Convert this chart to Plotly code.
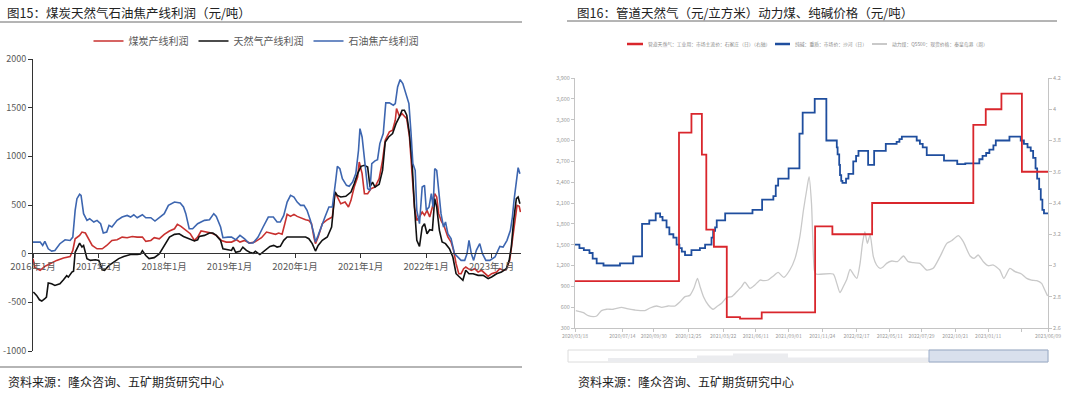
import plotly.graph_objects as go

# ---------------- Left chart: 产线利润 (元/吨) ----------------
coal_dates = ["2016-01-01","2016-01-12","2016-02-10","2016-03-07","2016-04-05","2016-05-12","2016-06-19","2016-07-26",
 "2016-08-10","2016-08-23","2016-09-17","2016-09-30","2016-10-19","2016-11-07","2016-11-26","2016-12-23",
 "2017-01-21","2017-02-15","2017-03-16","2017-04-14","2017-05-12","2017-06-09","2017-07-07","2017-08-04",
 "2017-09-02","2017-09-21","2017-10-19","2017-11-07","2017-12-05","2018-01-02","2018-01-31","2018-02-28",
 "2018-03-16","2018-04-05","2018-04-23","2018-05-27","2018-06-19","2018-07-07","2018-07-26","2018-08-23",
 "2018-09-21","2018-10-19","2018-11-16","2018-12-14","2019-01-12","2019-02-09","2019-02-28","2019-03-26",
 "2019-04-23","2019-05-21","2019-06-28","2019-07-26","2019-08-23","2019-09-14","2019-10-02","2019-10-21",
 "2019-11-05","2019-11-18","2019-12-07","2019-12-26","2020-01-13","2020-02-11","2020-02-29","2020-03-18",
 "2020-04-02","2020-04-15","2020-04-24","2020-05-09","2020-06-01","2020-06-29","2020-07-27","2020-08-11",
 "2020-08-24","2020-09-12","2020-10-06","2020-10-25","2020-11-08","2020-11-26","2020-12-15","2020-12-24",
 "2021-01-09","2021-01-22","2021-02-09","2021-02-28","2021-03-22","2021-04-14","2021-05-03","2021-05-18",
 "2021-06-10","2021-06-28","2021-07-13","2021-07-20","2021-08-05","2021-08-20","2021-09-02","2021-09-15",
 "2021-09-30","2021-10-15","2021-10-28","2021-11-10","2021-11-25","2021-12-10","2021-12-23","2022-01-06",
 "2022-01-21","2022-02-05","2022-02-18","2022-03-01","2022-03-12","2022-03-25","2022-04-13","2022-05-02",
 "2022-05-20","2022-06-03","2022-06-17","2022-07-02","2022-07-15","2022-07-29","2022-08-10","2022-08-23",
 "2022-09-10","2022-09-29","2022-10-18","2022-11-06","2022-11-24","2022-12-13","2023-01-01","2023-01-29",
 "2023-02-16","2023-03-06","2023-03-24","2023-04-12","2023-04-27","2023-05-10","2023-05-23","2023-06-04",
 "2023-06-11"]
coal_vals = [-51,-144,-171,-130,-103,-69,-45,-29,33,153,188,222,212,153,84,50,
 50,84,136,143,170,164,177,170,170,126,136,164,153,198,233,256,
 301,281,256,205,136,170,233,222,212,188,136,119,119,143,119,136,
 109,119,164,222,205,199,212,199,308,404,383,404,383,359,349,342,
 308,171,103,171,308,349,376,633,582,513,530,479,548,685,788,942,
 822,616,616,668,685,770,959,1165,1251,1268,1371,1491,1412,1439,1412,1388,
 1199,753,479,342,376,428,394,445,376,479,616,582,411,342,274,171,
 120,34,-103,-206,-206,-154,-137,-154,-171,-154,-189,-171,-206,-233,-206,-189,
 -154,-171,-164,-69,137,342,496,486,428]

gas_dates = ["2016-01-03","2016-01-21","2016-02-06","2016-02-19","2016-03-07","2016-03-16","2016-03-26","2016-04-14",
 "2016-05-02","2016-05-30","2016-06-19","2016-07-07","2016-07-16","2016-08-05","2016-08-14","2016-08-23",
 "2016-09-17","2016-09-30","2016-10-09","2016-10-28","2016-11-16","2016-12-14","2017-01-02","2017-01-21",
 "2017-02-03","2017-02-28","2017-03-26","2017-04-23","2017-05-21","2017-06-28","2017-08-04","2017-08-23",
 "2017-09-02","2017-09-21","2017-10-09","2017-11-07","2017-12-05","2018-01-02","2018-01-31","2018-02-28",
 "2018-03-26","2018-04-19","2018-05-21","2018-06-19","2018-07-07","2018-07-16","2018-08-14","2018-09-11",
 "2018-09-30","2018-10-19","2018-11-12","2018-11-25","2018-12-23","2019-01-12","2019-01-21","2019-02-04",
 "2019-02-28","2019-03-16","2019-04-05","2019-04-23","2019-05-12","2019-05-25","2019-06-19","2019-07-16",
 "2019-08-14","2019-09-04","2019-09-23","2019-10-11","2019-10-30","2019-11-18","2019-12-16","2020-01-13",
 "2020-02-29","2020-03-18","2020-04-06","2020-04-24","2020-05-09","2020-06-01","2020-06-29","2020-07-23",
 "2020-08-11","2020-08-24","2020-09-12","2020-10-10","2020-11-08","2020-11-26","2020-12-15","2021-01-03",
 "2021-01-22","2021-02-09","2021-02-22","2021-03-08","2021-03-22","2021-04-14","2021-05-03","2021-05-18",
 "2021-06-06","2021-06-28","2021-07-17","2021-08-05","2021-08-20","2021-09-02","2021-09-15","2021-09-30",
 "2021-10-15","2021-10-28","2021-11-10","2021-11-25","2021-12-10","2021-12-23","2022-01-06","2022-01-21",
 "2022-02-05","2022-02-18","2022-03-01","2022-03-16","2022-03-31","2022-04-19","2022-05-11","2022-05-30",
 "2022-06-17","2022-07-06","2022-07-25","2022-08-10","2022-08-28","2022-09-20","2022-10-18","2022-11-15",
 "2022-12-13","2023-01-01","2023-01-29","2023-02-25","2023-03-24","2023-04-09","2023-04-21","2023-05-04",
 "2023-05-19","2023-05-29","2023-06-08"]
gas_vals = [-394,-429,-474,-487,-463,-446,-302,-309,-326,-309,-268,-227,-241,-189,-180,14,
 109,68,84,-51,-69,-62,-69,-165,-171,-120,-86,-51,-29,-9,-9,-3,
 31,-19,-51,-41,-3,84,170,198,205,177,153,130,143,177,188,212,
 212,188,136,50,40,33,67,14,24,67,33,14,3,24,-9,33,
 75,85,68,75,137,171,171,171,171,154,103,27,85,137,171,274,
 633,599,582,589,633,719,822,897,908,890,685,736,685,712,856,1148,
 1199,1234,1336,1405,1474,1474,1422,1234,925,479,137,75,274,308,205,246,
 240,565,479,240,120,103,51,-34,-206,-240,-274,-171,-206,-206,-223,-223,
 -257,-240,-206,-189,-154,-69,68,342,565,582,513]

coke_dates = ["2016-01-01","2016-02-10","2016-02-24","2016-03-07","2016-03-26","2016-04-14","2016-05-02","2016-05-30",
 "2016-06-28","2016-07-26","2016-08-10","2016-08-23","2016-09-02","2016-09-17","2016-09-25","2016-10-09",
 "2016-10-28","2016-11-12","2016-12-05","2016-12-23","2017-01-12","2017-01-27","2017-02-15","2017-02-28",
 "2017-03-16","2017-04-14","2017-05-12","2017-06-09","2017-06-28","2017-07-16","2017-08-04","2017-09-02",
 "2017-09-21","2017-10-19","2017-11-11","2017-12-05","2018-01-02","2018-01-25","2018-02-28","2018-04-01",
 "2018-04-19","2018-05-02","2018-05-21","2018-06-09","2018-07-07","2018-08-14","2018-09-11","2018-10-05",
 "2018-10-19","2018-11-12","2018-11-25","2018-12-23","2019-01-12","2019-02-04","2019-02-28","2019-03-26",
 "2019-04-18","2019-05-12","2019-06-09","2019-07-07","2019-08-05","2019-09-02","2019-09-23","2019-10-11",
 "2019-10-30","2019-11-18","2019-12-07","2019-12-26","2020-01-13","2020-02-01","2020-02-20","2020-03-08",
 "2020-03-27","2020-04-15","2020-04-24","2020-05-09","2020-05-28","2020-06-16","2020-07-08","2020-07-27",
 "2020-08-15","2020-08-24","2020-09-07","2020-09-21","2020-10-14","2020-10-29","2020-11-17","2020-12-05",
 "2020-12-20","2020-12-28","2021-01-09","2021-01-22","2021-02-09","2021-02-22","2021-03-04","2021-03-22",
 "2021-04-05","2021-04-18","2021-05-07","2021-05-21","2021-06-10","2021-07-02","2021-07-13","2021-07-26",
 "2021-08-09","2021-08-24","2021-09-12","2021-09-27","2021-10-09","2021-10-19","2021-11-01","2021-11-10",
 "2021-11-25","2021-12-10","2021-12-23","2022-01-02","2022-01-17","2022-01-30","2022-02-09","2022-02-18",
 "2022-03-01","2022-03-12","2022-03-25","2022-04-08","2022-04-19","2022-05-02","2022-05-20","2022-06-08",
 "2022-06-27","2022-07-15","2022-08-04","2022-08-17","2022-08-28","2022-09-10","2022-09-23","2022-10-08",
 "2022-10-27","2022-11-11","2022-11-30","2022-12-22","2023-01-20","2023-02-16","2023-03-06","2023-03-28",
 "2023-04-16","2023-04-27","2023-05-06","2023-05-19","2023-05-29","2023-06-08"]
coke_vals = [119,119,84,126,50,26,33,102,143,136,170,445,565,610,599,411,
 342,359,325,342,308,212,222,291,274,342,376,393,376,400,369,400,
 369,369,335,369,411,497,531,521,480,411,256,256,308,342,349,411,
 383,274,164,170,170,143,188,153,109,109,170,274,376,376,325,325,
 393,530,599,582,530,496,496,445,342,205,120,188,291,376,479,479,
 753,897,873,770,702,692,736,822,1062,1285,1199,959,668,651,925,953,
 966,1131,1234,1549,1549,1525,1542,1713,1788,1747,1645,1542,1234,925,856,445,
 308,685,702,445,479,616,479,873,856,651,411,274,325,205,154,0,
 -34,-69,-69,0,137,0,-69,34,103,0,-69,-69,-34,75,68,137,
 240,376,548,719,884,822]

left_tickvals = ["2016-01-01","2017-01-01","2018-01-01","2019-01-01","2020-01-01","2021-01-01","2022-01-01","2023-01-01"]
left_ticktext = ["2016年1月","2017年1月","2018年1月","2019年1月","2020年1月","2021年1月","2022年1月","2023年1月"]
left_ytickvals = [-1000, -500, 0, 500, 1000, 1500, 2000]
left_yticktext = ["-1000", "-500", "0", "500", "1000", "1500", "2000"]

# ---------------- Right chart ----------------
ng_name = "管道天然气：工业用：市场主流价：石家庄（日）（右轴）"
ng_dates = ["2020-03-18","2020-12-02","2021-01-02","2021-01-28","2021-02-08","2021-02-27","2021-03-31","2021-05-03",
 "2021-06-26","2021-11-06","2021-12-19","2022-03-28","2022-12-05","2023-01-05","2023-02-13","2023-04-05","2023-06-09"]
ng_vals = [2.90,3.85,3.97,3.71,3.23,3.12,2.67,2.66,2.70,3.25,3.20,3.40,3.90,4.00,4.10,3.60,3.60]

soda_name = "纯碱：重质：市场价：沙河（日）"
soda_dates = ["2020-03-18","2020-03-29","2020-04-09","2020-04-23","2020-05-01","2020-05-11","2020-05-28","2020-07-08",
 "2020-08-10","2020-09-01","2020-09-19","2020-10-05","2020-10-16","2020-10-22","2020-11-01","2020-11-08",
 "2020-11-18","2020-11-26","2020-12-03","2020-12-09","2020-12-17","2021-01-02","2021-01-23","2021-02-05",
 "2021-02-21","2021-02-25","2021-03-02","2021-03-06","2021-03-27","2021-06-03","2021-06-27","2021-07-25",
 "2021-07-31","2021-08-06","2021-09-01","2021-09-28","2021-10-06","2021-11-05","2021-12-04","2021-12-30",
 "2022-01-01","2022-01-05","2022-01-07","2022-01-10","2022-01-13","2022-01-22","2022-01-28","2022-02-09",
 "2022-02-16","2022-02-22","2022-03-18","2022-04-02","2022-05-01","2022-05-28","2022-06-04","2022-06-10",
 "2022-07-17","2022-07-25","2022-08-01","2022-08-11","2022-09-23","2022-10-26","2022-11-15","2022-12-20",
 "2022-12-28","2023-01-06","2023-01-14","2023-01-24","2023-01-30","2023-03-05","2023-04-02","2023-04-10",
 "2023-04-19","2023-04-27","2023-05-03","2023-05-09","2023-05-13","2023-05-18","2023-05-22","2023-05-26",
 "2023-05-30","2023-06-09"]
soda_vals = [1500,1450,1420,1380,1300,1230,1200,1230,1330,1800,1850,1950,1900,1850,1750,1650,
 1600,1500,1450,1400,1350,1420,1450,1500,1600,1700,1750,1850,1950,2000,2150,2200,
 2350,2450,2600,3100,3400,3600,3000,2900,2800,2650,2500,2420,2390,2450,2520,2700,
 2780,2850,2650,2850,2950,2980,3020,3055,3000,2950,2900,2790,2710,2660,2670,2730,
 2780,2820,2870,2930,3000,3055,3000,2950,2900,2850,2750,2600,2450,2300,2150,2000,
 1950,1950]

coal_px_name = "动力煤：Q5500：现货价格：秦皇岛港（周）"
coal_px_dates = ["2020-03-20","2020-04-08","2020-04-20","2020-05-03","2020-05-11","2020-05-23","2020-06-05","2020-06-21",
 "2020-07-12","2020-07-25","2020-08-14","2020-09-08","2020-09-21","2020-10-07","2020-10-20","2020-11-05",
 "2020-11-22","2020-12-04","2020-12-17","2020-12-29","2021-01-08","2021-01-17","2021-01-23","2021-02-01",
 "2021-02-13","2021-02-25","2021-03-06","2021-03-18","2021-03-31","2021-04-12","2021-04-25","2021-05-07",
 "2021-05-15","2021-05-28","2021-06-09","2021-06-22","2021-06-30","2021-07-12","2021-07-25","2021-08-06",
 "2021-08-20","2021-09-04","2021-09-17","2021-09-29","2021-10-08","2021-10-16","2021-10-22","2021-10-28",
 "2021-11-04","2021-11-08","2021-12-21","2021-12-30","2022-01-07","2022-01-15","2022-01-24","2022-02-01",
 "2022-02-09","2022-02-18","2022-02-26","2022-03-04","2022-03-10","2022-03-16","2022-03-23","2022-03-31",
 "2022-04-08","2022-04-17","2022-04-25","2022-05-03","2022-05-16","2022-05-30","2022-06-14","2022-06-26",
 "2022-07-09","2022-07-25","2022-08-11","2022-08-27","2022-09-13","2022-09-30","2022-10-12","2022-10-29",
 "2022-11-10","2022-11-27","2022-12-07","2022-12-17","2022-12-30","2023-01-11","2023-01-24","2023-02-09",
 "2023-02-19","2023-03-06","2023-03-19","2023-04-04","2023-04-17","2023-04-29","2023-05-12","2023-05-24",
 "2023-06-01","2023-06-08"]
coal_px_vals = [550,520,477,463,473,550,570,570,597,578,559,550,588,617,597,617,
 617,674,751,770,871,1015,905,751,631,570,607,655,741,751,823,895,
 962,871,919,991,981,991,1049,1101,1029,1135,1303,1615,1999,2287,2479,2095,
 1135,1077,1077,943,809,895,1001,1145,1077,1015,1231,1519,1687,1519,1639,1327,
 1207,1159,1183,1231,1265,1255,1337,1255,1241,1231,1135,1159,1327,1519,1557,1629,
 1543,1337,1303,1351,1255,1197,1207,1135,1015,1159,1111,1077,1015,991,981,943,
 847,761]

right_tickvals = ["2020-03-18","2020-07-14","2020-09-30","2020-12-25","2021-03-22","2021-06-11","2021-09-01",
 "2021-11-24","2022-02-17","2022-05-11","2022-07-29","2022-10-21","2023-01-11","2023-04-05","2023-06-09"]
right_ticktext = ["2020/03/18","2020/07/14","2020/09/30","2020/12/25","2021/03/22","2021/06/11","2021/09/01",
 "2021/11/24","2022/02/17","2022/05/11","2022/07/29","2022/10/21","2023/01/11","","2023/06/09"]

FONT = "Noto Sans CJK SC"
W, H = 1080, 398
RED2, BLUE2, GRAY2 = "#D9262C", "#1F4E9E", "#C9C9C9"


def px(x):
    return x / W


def py(y):
    return 1 - y / H


fig = go.Figure()

# left traces
fig.add_trace(go.Scatter(x=coal_dates, y=coal_vals, name="煤炭产线利润", mode="lines",
                         line=dict(color="#C8312F", width=1.6), xaxis="x", yaxis="y"))
fig.add_trace(go.Scatter(x=gas_dates, y=gas_vals, name="天然气产线利润", mode="lines",
                         line=dict(color="#111111", width=1.6), xaxis="x", yaxis="y"))
fig.add_trace(go.Scatter(x=coke_dates, y=coke_vals, name="石油焦产线利润", mode="lines",
                         line=dict(color="#3D66B0", width=1.6), xaxis="x", yaxis="y"))

# right traces (gray drawn first so it sits underneath); their key is drawn below
fig.add_trace(go.Scatter(x=coal_px_dates, y=coal_px_vals, name=coal_px_name, showlegend=False,
                         mode="lines", line=dict(color=GRAY2, width=1.3, shape="spline", smoothing=0.6),
                         xaxis="x2", yaxis="y2"))
fig.add_trace(go.Scatter(x=soda_dates, y=soda_vals, name=soda_name, showlegend=False,
                         mode="lines", line=dict(color=BLUE2, width=1.8, shape="hv"),
                         xaxis="x2", yaxis="y2"))
fig.add_trace(go.Scatter(x=ng_dates, y=ng_vals, name=ng_name, showlegend=False,
                         mode="lines", line=dict(color=RED2, width=1.8, shape="hv"),
                         xaxis="x2", yaxis="y3"))

shapes = [
    # left title rule and bottom rule
    dict(type="line", xref="paper", yref="paper", x0=0, x1=px(522), y0=py(22), y1=py(22),
         line=dict(color="#6b6b6b", width=1)),
    dict(type="line", xref="paper", yref="paper", x0=0, x1=px(522), y0=py(367), y1=py(367),
         line=dict(color="#b5b5b5", width=2)),
    # right title rule
    dict(type="line", xref="paper", yref="paper", x0=px(567), x1=px(1057), y0=py(21), y1=py(21),
         line=dict(color="#6b6b6b", width=1)),
    # right chart key swatches
    dict(type="line", xref="paper", yref="paper", x0=px(627), x1=px(643), y0=py(44), y1=py(44),
         line=dict(color=RED2, width=2.5)),
    dict(type="line", xref="paper", yref="paper", x0=px(775), x1=px(790), y0=py(44), y1=py(44),
         line=dict(color=BLUE2, width=2.5)),
    dict(type="line", xref="paper", yref="paper", x0=px(872), x1=px(887), y0=py(44), y1=py(44),
         line=dict(color=GRAY2, width=2)),
    # data-zoom slider frame
    dict(type="rect", xref="paper", yref="paper", x0=px(568), x1=px(1048), y0=py(362), y1=py(350),
         line=dict(color="#dcdcdc", width=1), fillcolor="rgba(0,0,0,0)"),
    dict(type="rect", xref="paper", yref="paper", x0=px(608), x1=px(697), y0=py(362), y1=py(358),
         line=dict(width=0), fillcolor="#ebecef"),
    dict(type="rect", xref="paper", yref="paper", x0=px(697), x1=px(733), y0=py(362), y1=py(355.5),
         line=dict(width=0), fillcolor="#ebecef"),
    dict(type="rect", xref="paper", yref="paper", x0=px(733), x1=px(788), y0=py(362), y1=py(353.5),
         line=dict(width=0), fillcolor="#ebecef"),
    dict(type="rect", xref="paper", yref="paper", x0=px(788), x1=px(929), y0=py(362), y1=py(357.5),
         line=dict(width=0), fillcolor="#ebecef"),
    dict(type="rect", xref="paper", yref="paper", x0=px(929), x1=px(1048), y0=py(362), y1=py(350),
         line=dict(color="#9fb0cc", width=1), fillcolor="rgba(170,186,214,0.45)"),
]

key_font = dict(family=FONT, size=4.8, color="#8a8a8a")
annotations = [
    dict(text="图15：煤炭天然气石油焦产线利润（元/吨）", xref="paper", yref="paper", x=px(5), y=py(12),
         xanchor="left", yanchor="middle", showarrow=False, font=dict(family=FONT, size=12.5, color="#222")),
    dict(text="图16：管道天然气（元/立方米）动力煤、纯碱价格（元/吨）", xref="paper", yref="paper", x=px(575), y=py(12),
         xanchor="left", yanchor="middle", showarrow=False, font=dict(family=FONT, size=12.5, color="#222")),
    dict(text="资料来源：隆众咨询、五矿期货研究中心", xref="paper", yref="paper", x=px(6), y=py(381),
         xanchor="left", yanchor="middle", showarrow=False, font=dict(family=FONT, size=12, color="#222")),
    dict(text="资料来源：隆众咨询、五矿期货研究中心", xref="paper", yref="paper", x=px(576), y=py(381),
         xanchor="left", yanchor="middle", showarrow=False, font=dict(family=FONT, size=12, color="#222")),
    dict(text=ng_name, xref="paper", yref="paper", x=px(646), y=py(44), xanchor="left", yanchor="middle",
         showarrow=False, font=key_font),
    dict(text=soda_name, xref="paper", yref="paper", x=px(793), y=py(44), xanchor="left", yanchor="middle",
         showarrow=False, font=key_font),
    dict(text=coal_px_name, xref="paper", yref="paper", x=px(890), y=py(44), xanchor="left", yanchor="middle",
         showarrow=False, font=key_font),
]

fig.update_layout(
    width=W, height=H, autosize=False,
    margin=dict(l=0, r=0, t=0, b=0, autoexpand=False),
    paper_bgcolor="white", plot_bgcolor="rgba(0,0,0,0)",
    font=dict(family=FONT, color="#595959"),
    hovermode=False,
    showlegend=True,
    shapes=shapes,
    annotations=annotations,
    legend=dict(orientation="h", x=px(256), y=py(41), xanchor="center", yanchor="middle",
                font=dict(family=FONT, size=10, color="#595959"), bgcolor="rgba(0,0,0,0)",
                itemwidth=30, tracegroupgap=0),
    xaxis=dict(domain=[px(33), px(521)], type="date", range=["2016-01-01", "2023-06-14"],
               anchor="free", position=py(253.3), automargin=False,
               tickmode="array", tickvals=left_tickvals, ticktext=left_ticktext,
               ticks="outside", ticklen=4, tickcolor="#333", showline=True, linecolor="#333", linewidth=1,
               showgrid=False, zeroline=False, tickfont=dict(family=FONT, size=9.5, color="#595959")),
    yaxis=dict(domain=[py(351), py(59)], range=[-1000, 2000], anchor="x", automargin=False,
               tickmode="array", tickvals=left_ytickvals, ticktext=left_yticktext,
               ticks="outside", ticklen=4, tickcolor="#333", showline=True, linecolor="#333", linewidth=1,
               showgrid=False, zeroline=False, tickfont=dict(family=FONT, size=9, color="#595959")),
    xaxis2=dict(domain=[px(575), px(1048)], type="date", range=["2020-03-18", "2023-06-09"], anchor="y2",
                automargin=False, tickmode="array", tickvals=right_tickvals, ticktext=right_ticktext,
                ticks="outside", ticklen=3, tickcolor="#c4c4c4", showline=True, linecolor="#c4c4c4", linewidth=1,
                showgrid=False, zeroline=False, tickfont=dict(family=FONT, size=5, color="#9a9a9a")),
    yaxis2=dict(domain=[py(328), py(78)], range=[300, 3900], dtick=300, tickformat=",", anchor="x2",
                automargin=False,
                ticks="outside", ticklen=3, tickcolor="#c4c4c4", showline=True, linecolor="#c4c4c4", linewidth=1,
                showgrid=False, zeroline=False, tickfont=dict(family=FONT, size=5.5, color="#9a9a9a")),
    yaxis3=dict(domain=[py(328), py(78)], range=[2.6, 4.2], dtick=0.2, overlaying="y2", side="right", anchor="x2",
                automargin=False,
                ticks="outside", ticklen=3, tickcolor="#c4c4c4", showline=True, linecolor="#c4c4c4", linewidth=1,
                showgrid=False, zeroline=False, tickfont=dict(family=FONT, size=5.5, color="#9a9a9a")),
)

# remove the browser's default page margin so the 1080x398 figure fills the window exactly
fig.write_html("out.html", config={"displayModeBar": False},
               post_script="document.body.style.margin='0';")
